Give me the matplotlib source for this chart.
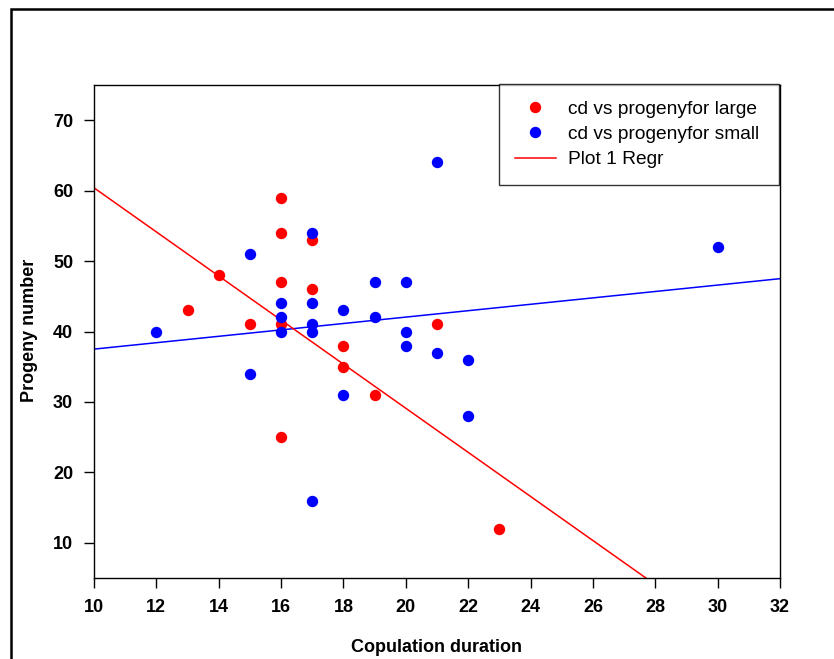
import matplotlib
matplotlib.use("Agg")
import matplotlib.pyplot as plt
from matplotlib.patches import Rectangle

plt.rcParams['font.family'] = ['Liberation Sans', 'DejaVu Sans']

# Data
large_x = [13, 14, 15, 16, 16, 16, 16, 16, 17, 17, 18, 18, 19, 21, 23]
large_y = [43, 48, 41, 59, 54, 47, 41, 25, 53, 46, 38, 35, 31, 41, 12]

small_x = [12, 15, 15, 16, 16, 16, 17, 17, 17, 17, 17, 18, 18, 19, 19, 20, 20, 20, 21, 21, 22, 22, 30]
small_y = [40, 51, 34, 44, 42, 40, 54, 44, 41, 40, 16, 43, 31, 47, 42, 47, 40, 38, 64, 37, 36, 28, 52]

# Regression lines (end points)
red_line_x = [10, 27.7]
red_line_y = [60.4, 5.0]
blue_line_x = [10, 32]
blue_line_y = [37.5, 47.5]

x_ticks = [10, 12, 14, 16, 18, 20, 22, 24, 26, 28, 30, 32]
y_ticks = [10, 20, 30, 40, 50, 60, 70]

W, H = 834, 659
fig = plt.figure(figsize=(W / 100, H / 100), dpi=100)

# outer frame
fig.patches.append(Rectangle((11 / W, -0.2), 1.5, 1 - 9 / H + 0.2, transform=fig.transFigure,
                             fill=False, edgecolor='black', linewidth=1.8))

ax = fig.add_axes([94 / W, 1 - 578 / H, (780 - 94) / W, (578 - 85) / H])

ax.plot(blue_line_x, blue_line_y, color='#0000ff', linewidth=1.1, zorder=2)
ln, = ax.plot(red_line_x, red_line_y, color='#ff0000', linewidth=1.1, zorder=2, label='Plot 1 Regr')
s1, = ax.plot(large_x, large_y, 'o', color='#ff0000', markersize=8.2, markeredgewidth=0,
              zorder=3, label='cd vs progenyfor large')
s2, = ax.plot(small_x, small_y, 'o', color='#0000ff', markersize=8.2, markeredgewidth=0,
              zorder=4, label='cd vs progenyfor small')

ax.set_xlim(10, 32)
ax.set_ylim(5, 75)
ax.set_xticks(x_ticks)
ax.set_yticks(y_ticks)
ax.tick_params(direction='out', length=7, width=1, labelsize=13, pad=8)
for lab in ax.get_xticklabels() + ax.get_yticklabels():
    lab.set_fontweight('bold')
for sp in ax.spines.values():
    sp.set_linewidth(1.0)

fig.text(437 / W, 1 - 647 / H, 'Copulation duration', ha='center', va='center',
         fontsize=13, fontweight='bold')
fig.text(30 / W, 1 - 330 / H, 'Progeny number', ha='center', va='center',
         fontsize=13, fontweight='bold', rotation=90)

leg = ax.legend(handles=[s1, s2, ln], loc='upper left',
                bbox_to_anchor=(499 / W, 1 - 85 / H, (779 - 499) / W, 0.001),
                bbox_transform=fig.transFigure, mode='expand',
                fontsize=13.8, frameon=True, fancybox=False, shadow=False,
                borderpad=0.85, labelspacing=0.4, handlelength=2.1,
                handletextpad=0.65, borderaxespad=0, markerscale=1.0)
leg.get_frame().set_edgecolor('black')
leg.get_frame().set_linewidth(1.0)
leg.set_zorder(10)

fig.savefig('out.png', dpi=100)
